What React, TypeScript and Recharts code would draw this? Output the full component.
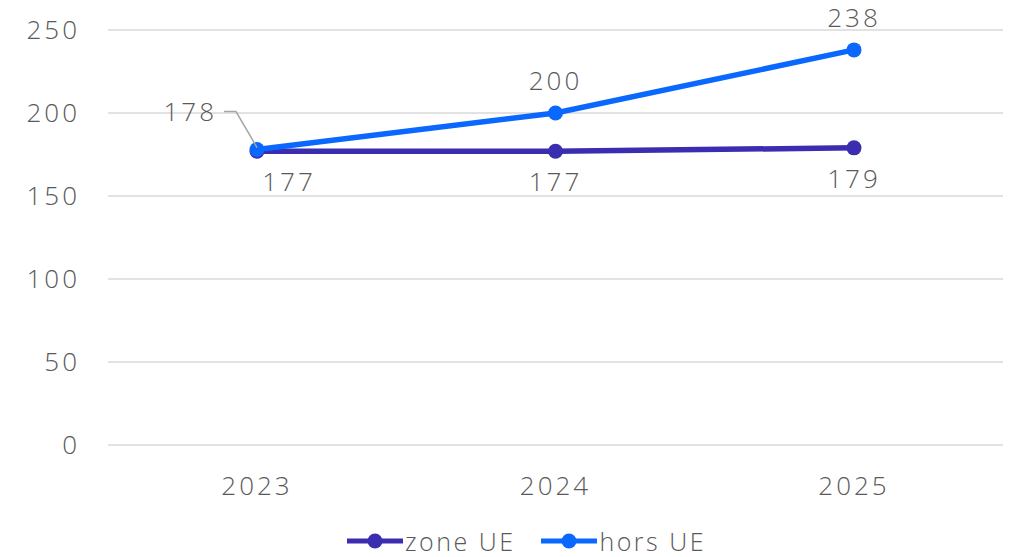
import { LineChart, Line, XAxis, YAxis, CartesianGrid, Legend, LabelList } from "recharts";

const years = ["2023", "2024", "2025"];
const zoneUE = [177, 177, 179];
const horsUE = [178, 200, 238];
const yTicks = [0, 50, 100, 150, 200, 250];

const data = years.map((year, i) => ({ year, zone: zoneUE[i], hors: horsUE[i] }));

const FONT = "'Open Sans', sans-serif";
const GRAY = "#595959";
const ZONE_COLOR = "#3a2db0";
const HORS_COLOR = "#0a68ff";

const textStyle = {
  fontFamily: FONT,
  fontWeight: 300,
  fontSize: 26,
  letterSpacing: 3,
  fill: GRAY,
};

const ZoneLabel = (props: any) => {
  const { x, y, value, index } = props;
  const dx = index === 0 ? 32 : 0;
  return (
    <text x={x + dx} y={y + 40} textAnchor="middle" style={textStyle}>
      {value}
    </text>
  );
};

const HorsLabel = (props: any) => {
  const { x, y, value, index } = props;
  if (index === 0) {
    return (
      <g>
        <polyline
          points={`${x - 33},${y - 38} ${x - 21},${y - 38} ${x},${y - 2}`}
          fill="none"
          stroke="#a6a6a6"
          strokeWidth={1.5}
        />
        <text x={x - 40} y={y - 29} textAnchor="end" style={textStyle}>
          {value}
        </text>
      </g>
    );
  }
  return (
    <text x={x} y={y - 23} textAnchor="middle" style={textStyle}>
      {value}
    </text>
  );
};

const legendItems = [
  { name: "zone UE", color: ZONE_COLOR },
  { name: "hors UE", color: HORS_COLOR },
];

const LegendContent = () => (
  <div style={{ display: "flex", justifyContent: "center", gap: 26, paddingLeft: 50, paddingTop: 5, height: 30 }}>
    {legendItems.map((item) => (
      <div key={item.name} style={{ display: "flex", alignItems: "center" }}>
        <svg width={56} height={20}>
          <line x1={0} y1={10} x2={56} y2={10} stroke={item.color} strokeWidth={5} />
          <circle cx={28} cy={10} r={7.5} fill={item.color} />
        </svg>
        <span
          style={{
            fontFamily: FONT,
            fontWeight: 300,
            fontSize: 25,
            letterSpacing: 2.5,
            lineHeight: "26px",
            color: GRAY,
            marginLeft: 2,
          }}
        >
          {item.name}
        </span>
      </div>
    ))}
  </div>
);

export default function App() {
  return (
    <div style={{ position: "absolute", left: 0, top: 0, width: 1015, height: 557, background: "#fff" }}>
      <LineChart width={1015} height={557} data={data} margin={{ top: 30, right: 12, left: 0, bottom: 0 }}>
        <CartesianGrid vertical={false} stroke="#d9d9d9" strokeWidth={1.5} />
        <XAxis
          dataKey="year"
          axisLine={false}
          tickLine={false}
          padding={{ left: 149, right: 149 }}
          tick={textStyle}
          tickMargin={26}
          height={76}
        />
        <YAxis
          domain={[0, 250]}
          ticks={yTicks}
          axisLine={false}
          tickLine={false}
          tickSize={0}
          tickMargin={28}
          width={108}
          tick={textStyle}
        />
        <Legend verticalAlign="bottom" height={36} content={<LegendContent />} />
        <Line
          dataKey="zone"
          name="zone UE"
          stroke={ZONE_COLOR}
          strokeWidth={5.5}
          dot={{ r: 7.5, fill: ZONE_COLOR, stroke: ZONE_COLOR, strokeWidth: 0 }}
          isAnimationActive={false}
        >
          <LabelList dataKey="zone" content={<ZoneLabel />} />
        </Line>
        <Line
          dataKey="hors"
          name="hors UE"
          stroke={HORS_COLOR}
          strokeWidth={5.5}
          dot={{ r: 7.5, fill: HORS_COLOR, stroke: HORS_COLOR, strokeWidth: 0 }}
          isAnimationActive={false}
        >
          <LabelList dataKey="hors" content={<HorsLabel />} />
        </Line>
      </LineChart>
    </div>
  );
}
